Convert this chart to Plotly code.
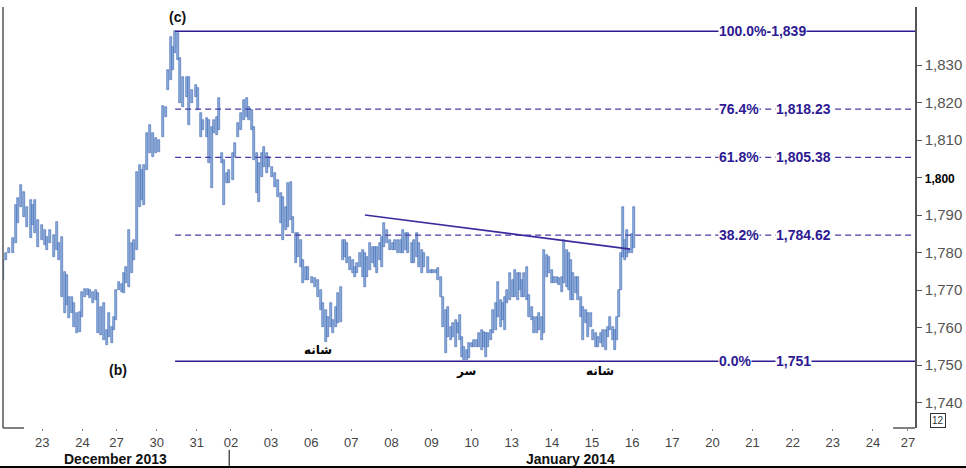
import plotly.graph_objects as go

# ---------------- data ----------------
# bar time in trading-session units (1 unit = one full session; Dec 24 / Dec 31 are short sessions)
t = [0.02,0.10,0.17,0.27,0.34,0.39,0.47,0.54,0.62,0.72,
     0.77,0.82,0.89,0.99,1.07,1.12,1.19,1.29,1.37,1.42,
     1.49,1.57,1.62,1.67,1.74,1.79,1.86,1.94,1.99,2.06,
     2.14,2.19,2.26,2.34,2.39,2.46,2.54,2.61,2.66,2.74,
     2.79,2.84,2.91,2.99,3.04,3.09,3.16,3.24,3.29,3.36,
     3.44,3.48,3.53,3.61,3.68,3.76,3.83,3.91,4.01,4.08,
     4.13,4.21,4.26,4.31,4.38,4.43,4.51,4.61,4.66,4.73,
     4.83,4.88,4.95,5.00,5.10,5.15,5.23,5.28,5.35,5.40,
     5.48,5.53,5.60,5.65,5.75,5.80,5.88,5.95,6.03,6.10,
     6.15,6.23,6.28,6.35,6.40,6.47,6.52,6.60,6.65,6.72,
     6.80,6.87,6.95,7.00,7.07,7.12,7.20,7.25,7.32,7.37,
     7.45,7.50,7.57,7.62,7.72,7.80,7.87,7.95,8.00,8.07,
     8.12,8.20,8.24,8.32,8.37,8.44,8.49,8.54,8.59,8.67,
     8.74,8.79,8.84,8.92,8.99,9.04,9.09,9.17,9.24,9.29,
     9.34,9.42,9.47,9.52,9.59,9.66,9.74,9.79,9.86,9.94,
     9.99,10.06,10.11,10.21,10.26,10.34,10.39,10.46,10.51,10.61,
     10.69,10.74,10.81,10.86,10.94,10.99,11.06,11.11,11.18,11.23,
     11.31,11.36,11.41,11.46,11.51,11.58,11.63,11.71,11.76,11.83,
     11.88,11.96,12.01,12.06,12.11,12.18,12.23,12.31,12.36,12.43,
     12.48,12.53,12.58,12.65,12.73,12.78,12.85,12.90,12.95,13.00,
     13.08,13.13,13.20,13.25,13.33,13.38,13.45,13.50,13.58,13.63,
     13.70,13.75,13.83,13.88,13.95,14.00,14.07,14.12,14.17,14.22,
     14.30,14.35,14.42,14.47,14.55,14.60,14.67,14.72,14.80,14.85,
     14.92,14.97,15.05,15.10,15.15,15.22,15.27,15.32,15.37,15.42,
     15.47,15.52,15.57,15.62,15.70,15.75]

high = [1778.0,1779.9,1781.2,1783.9,1792.7,1794.5,1798.0,1796.1,1792.1,1794.0,
        1792.7,1794.0,1788.7,1787.3,1786.0,1784.1,1786.0,1784.7,1788.1,1782.5,
        1784.1,1774.8,1774.0,1768.1,1768.1,1766.5,1763.9,1764.1,1769.5,1770.3,
        1770.3,1770.0,1769.5,1770.0,1769.2,1765.5,1766.5,1759.3,1763.9,1760.1,
        1762.8,1770.0,1772.1,1771.6,1774.5,1776.1,1786.0,1782.5,1783.3,1801.5,
        1803.3,1802.0,1803.3,1811.9,1814.0,1811.9,1810.5,1810.0,1819.1,1818.8,
        1828.7,1837.5,1834.8,1839.0,1838.5,1831.9,1826.8,1826.8,1826.8,1823.3,
        1824.7,1823.9,1817.2,1815.3,1815.9,1815.3,1813.5,1815.3,1816.1,1821.2,
        1806.5,1804.7,1801.2,1802.0,1806.5,1809.2,1814.5,1817.2,1820.7,1821.2,
        1818.8,1818.0,1813.5,1806.5,1803.9,1806.5,1808.1,1806.5,1805.5,1802.8,
        1801.2,1799.3,1795.9,1794.8,1792.1,1798.5,1798.8,1789.5,1785.2,1785.2,
        1783.3,1778.0,1776.1,1776.1,1773.5,1773.2,1772.7,1770.0,1766.5,1764.7,
        1762.8,1766.5,1762.0,1765.5,1769.2,1770.8,1783.3,1783.3,1782.5,1778.8,
        1778.0,1776.1,1777.2,1779.9,1780.7,1779.9,1778.8,1782.5,1781.5,1781.5,
        1781.5,1782.5,1784.1,1787.9,1786.0,1783.3,1782.5,1783.3,1783.3,1783.3,
        1786.0,1785.2,1785.2,1782.5,1783.3,1785.2,1782.5,1780.7,1779.9,1778.8,
        1775.3,1775.3,1775.3,1775.9,1773.5,1768.1,1764.7,1765.5,1760.1,1761.2,
        1762.0,1761.2,1763.3,1757.5,1754.8,1754.0,1755.9,1755.9,1756.7,1756.7,
        1758.5,1759.3,1758.8,1758.5,1758.5,1759.3,1764.7,1766.5,1772.1,1767.3,
        1766.5,1768.1,1770.0,1774.5,1772.7,1775.3,1774.5,1774.5,1772.7,1774.5,
        1776.1,1768.7,1765.5,1762.8,1762.8,1763.9,1762.8,1780.7,1779.3,1778.8,
        1775.3,1773.5,1773.5,1773.2,1773.5,1783.3,1780.7,1779.9,1778.0,1774.5,
        1773.5,1773.5,1768.1,1765.5,1764.7,1763.9,1763.9,1759.3,1758.5,1757.5,
        1758.5,1759.3,1759.3,1760.1,1762.8,1760.1,1759.3,1762.8,1770.0,1779.9,
        1792.1,1783.3,1786.0,1780.7,1784.9,1792.1]

low = [1772.7,1778.0,1779.9,1779.9,1782.5,1787.9,1792.1,1789.5,1786.8,1783.9,
       1787.3,1785.2,1781.5,1783.3,1782.0,1780.7,1782.5,1778.8,1780.7,1778.0,
       1768.1,1763.9,1766.0,1762.5,1763.9,1760.1,1758.5,1758.8,1762.8,1768.1,
       1768.7,1767.9,1766.5,1767.3,1758.5,1758.0,1756.7,1755.3,1757.5,1755.9,
       1759.3,1762.0,1770.0,1769.5,1769.2,1771.9,1770.8,1774.5,1778.0,1780.7,
       1792.1,1794.0,1792.7,1802.0,1806.5,1805.5,1806.5,1806.8,1810.8,1816.1,
       1823.3,1826.0,1828.7,1833.2,1831.3,1819.9,1818.8,1821.5,1814.0,1819.9,
       1821.5,1818.0,1810.8,1812.7,1810.8,1803.9,1797.2,1811.9,1811.3,1812.7,
       1803.9,1792.7,1798.5,1798.5,1799.3,1805.5,1810.8,1812.7,1815.3,1816.1,
       1815.3,1812.7,1804.7,1795.9,1793.5,1800.1,1802.8,1801.2,1802.8,1800.1,
       1797.5,1794.8,1787.9,1783.3,1786.0,1786.8,1788.7,1785.2,1777.2,1778.8,
       1776.1,1771.9,1772.7,1772.7,1771.9,1770.8,1768.1,1764.7,1760.1,1756.1,
       1757.5,1760.1,1758.5,1760.1,1761.2,1761.5,1778.0,1778.8,1777.2,1775.3,
       1774.5,1773.5,1774.5,1776.1,1773.5,1770.8,1773.5,1775.3,1777.2,1776.1,
       1774.5,1778.0,1776.1,1781.5,1782.5,1780.7,1780.7,1780.7,1779.9,1779.9,
       1779.9,1780.7,1779.9,1777.2,1777.2,1778.8,1776.1,1774.5,1776.1,1774.5,
       1774.5,1774.5,1774.5,1772.7,1768.1,1760.1,1753.2,1757.5,1756.7,1757.5,
       1754.8,1758.5,1756.7,1752.1,1751.3,1751.3,1751.9,1754.8,1754.8,1754.8,
       1754.8,1754.0,1754.8,1752.1,1754.8,1756.7,1758.5,1759.3,1762.8,1760.1,
       1762.0,1759.3,1766.5,1767.3,1768.1,1768.1,1767.3,1770.0,1768.1,1768.1,
       1767.3,1762.8,1762.0,1758.5,1758.5,1759.3,1756.7,1758.5,1773.5,1774.5,
       1771.9,1771.9,1771.9,1771.3,1769.5,1771.9,1770.8,1770.0,1767.3,1767.3,
       1769.2,1767.3,1762.8,1756.7,1761.2,1757.5,1760.1,1756.7,1754.8,1754.8,
       1755.9,1754.8,1754.0,1757.5,1759.3,1756.7,1754.0,1756.7,1762.8,1770.0,
       1778.8,1778.0,1778.8,1779.9,1779.9,1781.2]

# session start positions and day labels on the time axis
day_pos = [1.0, 2.0, 2.85, 3.85, 4.85, 5.7, 6.7, 7.7, 8.7, 9.7, 10.7, 11.7,
           12.7, 13.7, 14.7, 15.7, 16.7, 17.7, 18.7, 19.7, 20.7, 21.7, 22.57]
day_labels = ["23", "24", "27", "30", "31", "02", "03", "06", "07", "08", "09", "10",
              "13", "14", "15", "16", "17", "20", "21", "22", "23", "24", "27"]
months = ["December 2013", "January 2014"]
month_pos = [2.82, 14.17]

# Fibonacci retracement levels (from (b) low to (c) high)
fib_pct = ["100.0%", "76.4%", "61.8%", "38.2%", "0.0%"]
fib_val = [1839.0, 1818.23, 1805.38, 1784.62, 1751.0]
fib_val_txt = ["1,839", "1,818.23", "1,805.38", "1,784.62", "1,751"]
fib_start = 4.31

# neckline (trend line)
neck_t = [9.04, 15.65]
neck_p = [1790.0, 1780.9]

# wave / pattern labels
wave_txt = ["(c)", "(b)"]
wave_t = [4.38, 2.89]
wave_p = [1842.8, 1748.7]
hs_txt = ["شانه", "سر", "شانه"]
hs_t = [7.87, 11.56, 14.90]
hs_p = [1754.0, 1748.4, 1748.4]

last_price = 1789.2

y_ticks = [1740, 1750, 1760, 1770, 1780, 1790, 1800, 1810, 1820, 1830]

# ---------------- figure ----------------
X0, X1 = 0.0207, 22.747
Y0, Y1 = 1733.2, 1845.47
IND = "#2e1a92"
FONT = "Liberation Sans, Arial, sans-serif"

fig = go.Figure()
fig.add_trace(go.Bar(
    x=t, y=[h - l for h, l in zip(high, low)], base=low, width=0.058,
    marker=dict(color="#8cafdd", line=dict(color="#4064b0", width=0.6)),
    hoverinfo="skip", showlegend=False))

# last price marker beyond the axis
fig.add_trace(go.Scatter(
    x=[22.87], y=[last_price], mode="markers", cliponaxis=False,
    marker=dict(symbol="diamond", size=7, color="#2d4f9e"),
    hoverinfo="skip", showlegend=False))

shapes = []
for i, v in enumerate(fib_val):
    solid = fib_pct[i] in ("100.0%", "0.0%")
    shapes.append(dict(type="line", xref="x", yref="y", x0=fib_start, x1=X1, y0=v, y1=v,
                       line=dict(color=IND if solid else "#4b3aa8",
                                 width=1.6 if solid else 1.3,
                                 dash="solid" if solid else "6px,4px"),
                       layer="above"))
shapes.append(dict(type="line", xref="x", yref="y", x0=neck_t[0], x1=neck_t[1],
                   y0=neck_p[0], y1=neck_p[1], line=dict(color="#3b2c9e", width=1.6)))
# frame pieces
shapes.append(dict(type="line", xref="paper", yref="paper", x0=0, x1=0, y0=0, y1=1,
                   line=dict(color="#555555", width=1.5)))
shapes.append(dict(type="line", xref="paper", yref="paper", x0=0, x1=0.023, y0=0, y1=0,
                   line=dict(color="#555555", width=1.5)))
shapes.append(dict(type="line", xref="paper", yref="paper", x0=0.976, x1=1, y0=0, y1=0,
                   line=dict(color="#555555", width=1.5)))
shapes.append(dict(type="line", xref="paper", yref="paper", x0=-0.01, x1=1.06,
                   y0=-0.0926, y1=-0.0926, line=dict(color="#000000", width=2)))
shapes.append(dict(type="line", xref="paper", yref="paper", x0=0.248, x1=0.248,
                   y0=-0.052, y1=-0.0926, line=dict(color="#000000", width=1)))

ann = []
for i, v in enumerate(fib_val):
    if fib_pct[i] == "100.0%":
        ann.append(dict(x=17.84, y=v, xref="x", yref="y", xanchor="left", yanchor="middle",
                        text=f"<b>{fib_pct[i]}-{fib_val_txt[i]}</b>", showarrow=False,
                        font=dict(family=FONT, size=14, color=IND), bgcolor="white", borderpad=0))
    else:
        ann.append(dict(x=17.84, y=v, xref="x", yref="y", xanchor="left", yanchor="middle",
                        text=f"<b>{fib_pct[i]}</b>", showarrow=False,
                        font=dict(family=FONT, size=14, color=IND), bgcolor="white", borderpad=0))
        ann.append(dict(x=19.25, y=v, xref="x", yref="y", xanchor="left", yanchor="middle",
                        text=f"<b>{fib_val_txt[i]}</b>", showarrow=False,
                        font=dict(family=FONT, size=14, color=IND), bgcolor="white", borderpad=0))
for txt, xx, yy in zip(wave_txt, wave_t, wave_p):
    ann.append(dict(x=xx, y=yy, xref="x", yref="y", text=f"<b>{txt}</b>", showarrow=False,
                    font=dict(family=FONT, size=14, color="#111111")))
for txt, xx, yy in zip(hs_txt, hs_t, hs_p):
    ann.append(dict(x=xx, y=yy, xref="x", yref="y", text=f"<b>{txt}</b>", showarrow=False,
                    font=dict(family="DejaVu Sans, Noto Sans", size=12, color="#000000")))
for txt, xx in zip(months, month_pos):
    ann.append(dict(x=xx, y=-0.0735, xref="x", yref="paper", yanchor="middle",
                    text=f"<b>{txt}</b>", showarrow=False,
                    font=dict(family=FONT, size=14, color="#111111")))
ann.append(dict(x=1.016, y=0.0187, xref="paper", yref="paper", xanchor="left", yanchor="middle",
                text="12", showarrow=False, bordercolor="#333333", borderwidth=1, borderpad=1,
                font=dict(family=FONT, size=10, color="#333333")))

tick_txt = []
for v in y_ticks:
    s = f"{v:,}"
    if v == 1800:
        s = "<b><span style='font-size:12px;color:#000000'>" + s + "</span></b>"
    tick_txt.append(s)

fig.update_layout(
    width=966, height=468,
    margin=dict(l=3, r=51, t=7, b=40),
    paper_bgcolor="white", plot_bgcolor="white",
    showlegend=False, bargap=0,
    shapes=shapes, annotations=ann,
    xaxis=dict(range=[X0, X1], tickvals=day_pos, ticktext=day_labels,
               showgrid=False, zeroline=False, showline=False,
               ticks="outside", ticklen=2, tickcolor="#888888",
               tickfont=dict(family=FONT, size=13, color="#444444")),
    yaxis=dict(range=[Y0, Y1], side="right", tickvals=y_ticks, ticktext=tick_txt,
               showgrid=False, zeroline=False, showline=True, linecolor="#555555", linewidth=1.5,
               ticks="outside", ticklen=5, tickcolor="#555555",
               tickfont=dict(family=FONT, size=15, color="#555555")),
)

fig.write_html("out.html", config={"displayModeBar": False},
               post_script="document.body.style.margin='0';document.body.style.overflow='hidden';")
